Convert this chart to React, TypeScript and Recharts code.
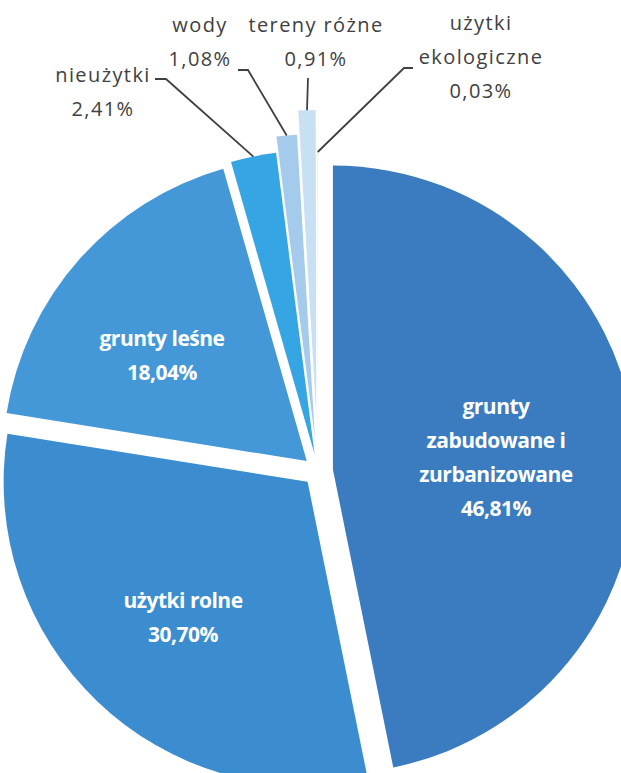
import { PieChart, Pie, Cell } from 'recharts';

// land use shares, clockwise from 12 o'clock
const categories = [
  'grunty\nzabudowane i\nzurbanizowane',
  'użytki rolne',
  'grunty leśne',
  'nieużytki',
  'wody',
  'tereny różne',
  'użytki\nekologiczne',
];
const shares = [46.81, 30.7, 18.04, 2.41, 1.08, 0.91, 0.03];

// styling
const COLORS = ['#3A7CBF', '#3B8DCF', '#4498D7', '#35A6E3', '#A4CBEB', '#C7E0F4', '#DCEBF8'];
const EXPLODE = [15, 15, 15, 17, 33, 57, 15];
const INSIDE = [true, true, true, false, false, false, false];
// label anchor (centre x, first baseline) and leader start/knee for outside labels
const LABEL_AT = [
  { x: 496, y: 414 },
  { x: 183, y: 608 },
  { x: 162, y: 346 },
  { x: 103, y: 82, lead: [[155, 79], [166, 79]] },
  { x: 200, y: 32, lead: [[238, 70], [248, 70]] },
  { x: 316, y: 32, lead: [[308, 78], [308, 78]] },
  { x: 481, y: 30, lead: [[413, 68], [404, 68]] },
];
const LINE_H = 34;

const data = categories.map((name, i) => ({ name, value: shares[i] }));
const fmt = (v: number) => v.toFixed(2).replace('.', ',') + '%';

const total = shares.reduce((a, b) => a + b, 0);
const offsets = (() => {
  let acc = 0;
  return shares.map((v, i) => {
    const mid = 90 - (360 * (acc + v / 2)) / total;
    acc += v;
    const r = (-mid * Math.PI) / 180;
    return [EXPLODE[i] * Math.cos(r), EXPLODE[i] * Math.sin(r)];
  });
})();

const renderLabel = (props: any) => {
  const { cx, cy, midAngle, outerRadius, index } = props;
  const pos = LABEL_AT[index];
  const lines = [...categories[index].split('\n'), fmt(shares[index])];
  const inside = INSIDE[index];
  const rad = (-midAngle * Math.PI) / 180;
  const ex = cx + (EXPLODE[index] + outerRadius) * Math.cos(rad);
  const ey = cy + (EXPLODE[index] + outerRadius) * Math.sin(rad);
  return (
    <g>
      {!inside && pos.lead && (
        <polyline
          points={`${pos.lead[0][0]},${pos.lead[0][1]} ${pos.lead[1][0]},${pos.lead[1][1]} ${ex},${ey}`}
          fill="none"
          stroke="#404040"
          strokeWidth={1.8}
        />
      )}
      <text
        x={pos.x}
        y={pos.y}
        textAnchor="middle"
        fill={inside ? '#ffffff' : '#404040'}
        fontFamily='"Open Sans", sans-serif'
        fontWeight={inside ? 700 : 400}
        fontSize={inside ? 21 : 20}
        letterSpacing={inside ? -0.5 : 1.4}
      >
        {lines.map((t, k) => (
          <tspan key={k} x={pos.x} y={pos.y + k * LINE_H}>
            {t}
          </tspan>
        ))}
      </text>
    </g>
  );
};

export default function App() {
  return (
    <div style={{ position: 'fixed', left: 0, top: 0, width: 621, height: 773, background: '#fff' }}>
      <PieChart width={621} height={773} margin={{ top: 0, right: 0, bottom: 0, left: 0 }}>
        <Pie
          data={data}
          dataKey="value"
          nameKey="name"
          cx={318}
          cy={471}
          outerRadius={304}
          startAngle={90}
          endAngle={-270}
          stroke="none"
          label={renderLabel}
          labelLine={false}
          isAnimationActive={false}
        >
          {data.map((d, i) => (
            <Cell
              key={d.name}
              fill={COLORS[i]}
              transform={`translate(${offsets[i][0]},${offsets[i][1]})`}
            />
          ))}
        </Pie>
      </PieChart>
    </div>
  );
}
